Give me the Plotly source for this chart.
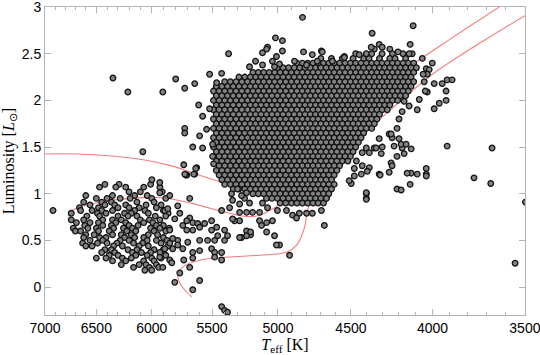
import math
import plotly.graph_objects as go

# ---------------- data ----------------
# Evolutionary tracks (Teff [K], L)
track_c_T = [7000, 6675, 6356, 6061, 5830, 5656, 5385, 5285, 5172]
track_c_L = [1.426, 1.426, 1.404, 1.362, 1.298, 1.223, 1.106, 1.064, 1.02]

track_b_T = [6704, 6752, 6762, 6675, 6485, 6211, 5914, 5656, 5385, 5232, 5135, 5062, 5004,
             4953, 4848, 4576, 4320, 4119, 3905, 3633, 3582]
track_b_L = [0.702, 0.734, 0.787, 0.851, 0.904, 0.947, 0.957, 0.894, 0.798, 0.755, 0.766, 0.819, 0.872,
             1.085, 1.457, 1.83, 2.128, 2.383, 2.649, 3.0, 3.07]

track_a_T = [5664, 5721, 5762, 5779, 5738, 5599, 5385, 5135, 4939, 4868, 4812, 4792, 4758,
             4710, 4511, 4239, 4002, 3724, 3495]
track_a_L = [-0.106, -0.032, 0.043, 0.128, 0.213, 0.287, 0.319, 0.34, 0.372, 0.447, 0.638, 0.819, 0.947,
             1.191, 1.511, 1.915, 2.277, 2.628, 2.915]

# Dense red-giant clump: rows of (L, list of Teff)
giant_rows = [
    (2.55, [4350, 4254]),
    (2.50, [4469, 4367, 4302, 4238, 4174]),
    (2.45, [4700, 4628, 4556, 4486, 4418, 4384, 4318, 4254, 4222, 4158]),
    (2.40, [4865, 4827, 4790, 4754, 4718, 4682, 4646, 4610, 4574, 4538, 4503, 4469, 4435, 4401, 4367, 4334, 4302, 4270, 4238, 4206, 4174, 4142, 4110]),
    (2.35, [5004, 4964, 4924, 4884, 4846, 4808, 4772, 4736, 4700, 4664, 4628, 4592, 4556, 4520, 4486, 4452, 4418, 4384, 4350, 4318, 4286, 4254, 4222, 4190, 4158, 4126, 4094]),
    (2.30, [5184, 5144, 5104, 5064, 5024, 4984, 4944, 4904, 4865, 4827, 4790, 4754, 4718, 4682, 4646, 4610, 4574, 4538, 4503, 4469, 4435, 4401, 4367, 4334, 4302, 4270, 4238, 4206, 4174, 4142, 4110]),
    (2.25, [5290, 5246, 5204, 5164, 5124, 5084, 5044, 5004, 4964, 4924, 4884, 4846, 4808, 4772, 4736, 4700, 4664, 4628, 4592, 4556, 4520, 4486, 4452, 4418, 4384, 4350, 4318, 4286, 4254, 4222, 4190, 4158, 4126]),
    (2.20, [5400, 5356, 5312, 5268, 5225, 5184, 5144, 5104, 5064, 5024, 4984, 4944, 4904, 4865, 4827, 4790, 4754, 4718, 4682, 4646, 4610, 4574, 4538, 4503, 4469, 4435, 4401, 4367, 4334, 4302, 4270, 4238, 4206, 4174, 4142, 4110]),
    (2.15, [5466, 5422, 5378, 5334, 5290, 5246, 5204, 5164, 5124, 5084, 5044, 5004, 4964, 4924, 4884, 4846, 4808, 4772, 4736, 4700, 4664, 4628, 4592, 4556, 4520, 4486, 4452, 4418, 4384, 4350, 4318, 4286, 4254, 4222, 4190, 4158, 4126]),
    (2.10, [5488, 5444, 5400, 5356, 5312, 5268, 5225, 5184, 5144, 5104, 5064, 5024, 4984, 4944, 4904, 4865, 4827, 4790, 4754, 4718, 4682, 4646, 4610, 4574, 4538, 4503, 4469, 4435, 4401, 4367, 4334, 4302, 4270, 4238, 4206, 4174, 4142]),
    (2.05, [5466, 5422, 5378, 5334, 5290, 5246, 5204, 5164, 5124, 5084, 5044, 5004, 4964, 4924, 4884, 4846, 4808, 4772, 4736, 4700, 4664, 4628, 4592, 4556, 4520, 4486, 4452, 4418, 4384, 4350, 4318, 4286, 4254, 4222, 4190, 4158]),
    (2.00, [5488, 5444, 5400, 5356, 5312, 5268, 5225, 5184, 5144, 5104, 5064, 5024, 4984, 4944, 4904, 4865, 4827, 4790, 4754, 4718, 4682, 4646, 4610, 4574, 4538, 4503, 4469, 4435, 4401, 4367, 4334, 4302, 4270, 4238, 4206]),
    (1.95, [5466, 5422, 5378, 5334, 5290, 5246, 5204, 5164, 5124, 5084, 5044, 5004, 4964, 4924, 4884, 4846, 4808, 4772, 4736, 4700, 4664, 4628, 4592, 4556, 4520, 4486, 4452, 4418, 4384, 4350, 4318, 4286, 4254]),
    (1.90, [5488, 5444, 5400, 5356, 5312, 5268, 5225, 5184, 5144, 5104, 5064, 5024, 4984, 4944, 4904, 4865, 4827, 4790, 4754, 4718, 4682, 4646, 4610, 4574, 4538, 4503, 4469, 4435, 4401, 4367, 4334, 4302, 4270]),
    (1.85, [5466, 5422, 5378, 5334, 5290, 5246, 5204, 5164, 5124, 5084, 5044, 5004, 4964, 4924, 4884, 4846, 4808, 4772, 4736, 4700, 4664, 4628, 4592, 4556, 4520, 4486, 4452, 4418, 4384, 4350, 4318]),
    (1.80, [5488, 5444, 5400, 5356, 5312, 5268, 5225, 5184, 5144, 5104, 5064, 5024, 4984, 4944, 4904, 4865, 4827, 4790, 4754, 4718, 4682, 4646, 4610, 4574, 4538, 4503, 4469, 4435, 4401, 4367, 4334]),
    (1.75, [5466, 5422, 5378, 5334, 5290, 5246, 5204, 5164, 5124, 5084, 5044, 5004, 4964, 4924, 4884, 4846, 4808, 4772, 4736, 4700, 4664, 4628, 4592, 4556, 4520, 4486, 4452, 4418, 4384, 4350]),
    (1.70, [5488, 5444, 5400, 5356, 5312, 5268, 5225, 5184, 5144, 5104, 5064, 5024, 4984, 4944, 4904, 4865, 4827, 4790, 4754, 4718, 4682, 4646, 4610, 4574, 4538, 4503, 4469, 4435, 4401, 4367]),
    (1.65, [5466, 5422, 5378, 5334, 5290, 5246, 5204, 5164, 5124, 5084, 5044, 5004, 4964, 4924, 4884, 4846, 4808, 4772, 4736, 4700, 4664, 4628, 4592, 4556, 4520, 4486, 4452, 4418]),
    (1.60, [5488, 5444, 5400, 5356, 5312, 5268, 5225, 5184, 5144, 5104, 5064, 5024, 4984, 4944, 4904, 4865, 4827, 4790, 4754, 4718, 4682, 4646, 4610, 4574, 4538, 4503, 4469, 4435]),
    (1.55, [5466, 5422, 5378, 5334, 5290, 5246, 5204, 5164, 5124, 5084, 5044, 5004, 4964, 4924, 4884, 4846, 4808, 4772, 4736, 4700, 4664, 4628, 4592, 4556, 4520, 4486, 4452]),
    (1.50, [5488, 5444, 5400, 5356, 5312, 5268, 5225, 5184, 5144, 5104, 5064, 5024, 4984, 4944, 4904, 4865, 4827, 4790, 4754, 4718, 4682, 4646, 4610, 4574, 4538, 4503, 4469]),
    (1.45, [5466, 5422, 5378, 5334, 5290, 5246, 5204, 5164, 5124, 5084, 5044, 5004, 4964, 4924, 4884, 4846, 4808, 4772, 4736, 4700, 4664, 4628, 4592, 4556, 4520, 4486]),
    (1.40, [5488, 5444, 5400, 5356, 5312, 5268, 5225, 5184, 5144, 5104, 5064, 5024, 4984, 4944, 4904, 4865, 4827, 4790, 4754, 4718, 4682, 4646, 4610, 4574, 4538, 4503]),
    (1.35, [5466, 5422, 5378, 5334, 5290, 5246, 5204, 5164, 5124, 5084, 5044, 5004, 4964, 4924, 4884, 4846, 4808, 4772, 4736, 4700, 4664, 4628, 4592, 4556, 4520]),
    (1.30, [5444, 5400, 5356, 5312, 5268, 5225, 5184, 5144, 5104, 5064, 5024, 4984, 4944, 4904, 4865, 4827, 4790, 4754, 4718, 4682, 4646, 4610, 4574]),
    (1.25, [5466, 5422, 5378, 5334, 5290, 5246, 5204, 5164, 5124, 5084, 5044, 5004, 4964, 4924, 4884, 4846, 4808, 4772, 4736, 4700, 4664, 4628, 4592]),
    (1.20, [5444, 5400, 5356, 5312, 5268, 5225, 5184, 5144, 5104, 5064, 5024, 4984, 4944, 4904, 4865, 4827, 4790, 4754, 4718, 4682, 4646, 4610]),
    (1.15, [5422, 5378, 5334, 5290, 5246, 5204, 5164, 5124, 5084, 5044, 5004, 4964, 4924, 4884, 4846, 4808, 4772, 4736, 4700, 4664, 4628]),
    (1.10, [5400, 5356, 5312, 5268, 5225, 5184, 5144, 5104, 5064, 5024, 4984, 4944, 4904, 4865, 4827, 4790, 4754, 4718, 4682, 4646, 4610]),
    (1.05, [5334, 5290, 5246, 5204, 5164, 5124, 5084, 5044, 5004, 4964, 4924, 4884, 4846, 4808, 4772, 4736, 4700, 4664, 4628]),
    (1.00, [5184, 5144, 5104, 5064, 5024, 4984, 4944, 4904, 4865, 4827, 4790, 4754, 4718, 4682, 4646]),
    (0.95, [5084, 5044, 5004, 4964, 4924, 4884, 4846, 4808, 4772, 4736, 4700, 4664]),
    (0.90, [4984, 4944, 4904, 4865, 4827, 4790, 4754, 4718, 4682]),
]

# Main-sequence group: rows of (L, list of Teff)
dwarf_rows = [
    (1.10, [6420, 6290, 6010]),
    (1.07, [6470, 6320, 6230, 6070, 5930]),
    (1.02, [6200, 6100, 5910]),
    (0.98, [6600, 6350, 6150, 6040]),
    (0.95, [6500, 6400, 6280, 6190, 6000, 5880]),
    (0.91, [6620, 6450, 6360, 6130, 5980]),
    (0.88, [6560, 6420, 6330, 6230, 6050, 5920]),
    (0.85, [6660, 6480, 6300, 6200, 6110, 5960]),
    (0.82, [6920, 6650, 6540, 6450, 6350, 6150, 6060, 5900]),
    (0.79, [6740, 6490, 6410, 6240, 6180, 6030, 5860]),
    (0.76, [6590, 6470, 6300, 6210, 6130, 5970, 5880]),
    (0.72, [6740, 6620, 6440, 6350, 6270, 6100, 6020, 5930]),
    (0.69, [6690, 6560, 6480, 6320, 6230, 6070, 5990]),
    (0.66, [6610, 6440, 6360, 6200, 6120, 5960, 5900]),
    (0.63, [6720, 6580, 6500, 6340, 6250, 6170, 6010, 5930, 5850]),
    (0.60, [6700, 6650, 6480, 6380, 6220, 6140, 5980, 5880]),
    (0.56, [6600, 6520, 6350, 6270, 6180, 6030, 5950]),
    (0.53, [6620, 6470, 6410, 6240, 6150, 6070, 5900]),
    (0.50, [6560, 6440, 6280, 6200, 6040, 5960, 5870]),
    (0.47, [6630, 6490, 6400, 6310, 6160, 6080, 5920]),
    (0.44, [6600, 6540, 6340, 6260, 6110, 6030, 5860]),
    (0.40, [6420, 6360, 6210, 6130, 5980, 5900]),
    (0.37, [6450, 6330, 6170, 6090, 6010, 5930]),
    (0.34, [6380, 6300, 6140, 6040, 5880]),
    (0.31, [6500, 6410, 6260, 6180, 6000, 5920]),
    (0.28, [6350, 6230, 6070, 5980]),
    (0.24, [6270, 6110, 6050, 5960]),
    (0.21, [6160, 6020, 5940]),
    (0.18, [6060, 6000]),
]

# Scattered stars (Teff, L)
scattered = [
    # subgiant region
    (5729, 1.31), (5623, 1.28), (5639, 1.21), (5704, 1.20), (5931, 1.12), (5931, 1.01), (5846, 0.98),
    (5680, 0.95), (5424, 0.82), (5888, 0.82), (5863, 0.84), (5779, 0.87), (5762, 0.79), (5804, 0.73),
    (5680, 0.74), (5704, 0.71), (5655, 0.69), (5615, 0.68), (5559, 0.68), (5503, 0.71), (5737, 0.66),
    (5846, 0.61), (5704, 0.61), (5655, 0.61), (5599, 0.64), (5503, 0.61), (5463, 0.64), (5401, 0.61),
    (5378, 0.55), (5455, 0.55), (5401, 0.50), (5479, 0.50), (5535, 0.50), (5599, 0.50), (5696, 0.48),
    (5779, 0.50), (5821, 0.52), (5846, 0.47), (5779, 0.45), (5737, 0.41), (5821, 0.41), (5888, 0.41),
    (5655, 0.37), (5599, 0.39), (5503, 0.41), (5479, 0.37), (5424, 0.37), (5931, 0.32), (5846, 0.29),
    (5729, 0.29), (5655, 0.31), (5479, 0.32), (5424, 0.29), (5905, 0.21), (5829, 0.26), (5680, 0.21),
    (5762, 0.15), (5804, 0.05), (5599, 0.07), (5655, -0.03), (5424, -0.21), (5401, -0.25), (5378, -0.27),
    (5285, 0.71), (5324, 0.71), (5232, 0.60), (5202, 0.56), (5270, 0.53), (5135, 0.71), (5083, 0.69),
    (5040, 0.71), (5120, 0.66), (5083, 0.59), (5025, 0.55), (4989, 0.45), (5285, 0.80), (5187, 0.80),
    (5135, 0.80), (5232, 0.80), (5362, 0.85), (5339, 0.93), (5285, 0.89), (5247, 0.95), (5210, 0.90),
    (5113, 0.90), (5076, 0.85), (5347, 1.00), (5301, 1.05), (5270, 0.98), (5232, 1.01), (5339, 0.73),
    (4676, 0.66), (4696, 0.82), (4662, 0.95), (4758, 0.79), (4798, 0.79), (4848, 0.79), (4896, 0.77),
    (4868, 0.74), (4939, 0.82), (5004, 0.82), (4917, 0.34), (5011, 0.45), (5285, 0.53), (5232, 0.55),
    (5202, 0.59),
    # cool side of the clump
    (4498, 1.11), (4511, 1.14), (4478, 1.19), (4433, 1.21), (4401, 0.95), (4401, 1.00),
    (4364, 2.72), (4113, 2.80), (4370, 2.57), (4320, 2.60), (4301, 2.57), (4131, 2.60), (4119, 2.50),
    (4137, 2.50), (4204, 2.52), (4059, 2.45), (4001, 2.40), (4036, 2.34), (4019, 2.33), (4048, 2.20),
    (3990, 2.18), (3944, 2.18), (3916, 2.22), (3888, 2.22), (3922, 2.10), (4030, 2.09), (4042, 2.10),
    (4077, 2.01), (4089, 1.90), (4137, 1.94), (4179, 1.88), (4198, 1.80), (4210, 1.70), (4167, 1.99),
    (3990, 1.91), (3961, 1.97), (3922, 2.00), (3916, 1.51), (4258, 1.64), (4240, 1.60), (4198, 1.59),
    (4228, 1.51), (4179, 1.49), (4320, 1.59), (4351, 1.49), (4401, 1.49), (4543, 2.47), (4446, 2.49),
    (4696, 2.53), (4301, 1.50), (4339, 1.49), (4382, 1.44), (4427, 1.44), (4307, 1.43), (4246, 1.33),
    (4240, 1.30), (4185, 1.53), (4155, 1.53), (4125, 1.48), (4167, 1.43), (4210, 1.40), (4246, 1.64),
    (4036, 1.27), (4036, 1.21), (4089, 1.21), (4125, 1.22), (4149, 1.22), (4258, 1.23), (4320, 1.21),
    (4382, 1.28), (4395, 1.24), (4427, 1.30), (4478, 1.27), (4465, 1.35), (4401, 1.01), (4401, 0.94),
    (4210, 1.05), (4185, 1.04), (4131, 1.10), (4036, 1.19), (4314, 1.20), (4030, 2.28), (4054, 2.28),
    (3670, 1.49), (3767, 1.17), (3677, 1.11), (3497, 0.91), (3550, 0.255),
    # hot/upper side of the clump
    (4826, 2.89), (5370, 2.50), (5018, 2.67), (4968, 2.64), (5076, 2.57), (5083, 2.55), (5113, 2.51),
    (4968, 2.53), (5011, 2.47), (5040, 2.42), (4989, 2.39), (5025, 2.36), (5210, 2.36), (5165, 2.42),
    (5113, 2.38), (4819, 2.52), (4758, 2.49), (4690, 2.52), (4724, 2.42), (4882, 2.42), (4798, 2.38),
    (4622, 2.42), (4543, 2.46), (4401, 2.50),
    (5796, 2.23), (5721, 2.13), (5639, 2.18), (5519, 2.28), (5424, 2.29), (5463, 2.19), (5607, 1.95),
    (5575, 1.83), (5519, 1.91), (5721, 1.70), (5721, 1.65), (5543, 1.69), (5599, 1.62), (5655, 1.50),
    (5575, 1.49), (5495, 1.53), (5495, 1.40), (5487, 1.32), (5631, 1.27), (5712, 1.20), (5647, 1.21),
    (6346, 2.24), (6211, 2.09), (5905, 2.09), (6078, 1.45), (5999, 1.15), (5721, 1.21),
]

# Axis ticks
x_ticks = [7000, 6500, 6000, 5500, 5000, 4500, 4000, 3500]
x_minor = [6900, 6800, 6700, 6600, 6400, 6300, 6200, 6100, 5900, 5800, 5700, 5600,
           5400, 5300, 5200, 5100, 4900, 4800, 4700, 4600, 4400, 4300, 4200, 4100,
           3900, 3800, 3700, 3600]
y_ticks = [0, 0.5, 1, 1.5, 2, 2.5, 3]
y_ticktext = ["0", "0.5", "1", "1.5", "2", "2.5", "3"]

# ---------------- build ----------------
star_T, star_L = [], []
for L, Ts in dwarf_rows + giant_rows:
    for T in Ts:
        star_T.append(T)
        star_L.append(L)
for T, L in scattered:
    star_T.append(T)
    star_L.append(L)

red = "rgb(242,125,125)"
fig = go.Figure()
for tx, ty in [(track_c_T, track_c_L), (track_b_T, track_b_L), (track_a_T, track_a_L)]:
    fig.add_trace(go.Scatter(x=tx, y=ty, mode="lines", line=dict(color=red, width=1.1, shape="spline"),
                             hoverinfo="skip", showlegend=False))

fig.add_trace(go.Scatter(
    x=star_T, y=star_L, mode="markers", showlegend=False,
    marker=dict(size=5.6, color="#828282", line=dict(color="#141414", width=1.3)),
))

axis_common = dict(
    showgrid=False, zeroline=False, showline=True, linecolor="#b3b3b3", linewidth=1,
    mirror="allticks", ticks="inside", tickcolor="#b3b3b3", tickwidth=1,
    ticklabeloverflow="allow", automargin=False,
    tickfont=dict(family="Liberation Sans, Arial, sans-serif", size=14, color="black"),
)

fig.update_layout(
    width=540, height=355,
    margin=dict(l=45, r=15, t=7, b=40),
    paper_bgcolor="white", plot_bgcolor="white",
    xaxis=dict(
        type="log", range=[math.log10(7000.5), math.log10(3499.5)],
        tickmode="array", tickvals=x_ticks, ticktext=[str(v) for v in x_ticks], ticklen=6,
        minor=dict(tickmode="array", tickvals=x_minor, ticks="inside", ticklen=3,
                   tickcolor="#b3b3b3", tickwidth=1, showgrid=False),
        title=dict(text="<i>T</i><sub>eff</sub> [K]", standoff=4,
                   font=dict(family="Liberation Serif, Times New Roman, serif", size=16, color="black")),
        **axis_common,
    ),
    yaxis=dict(
        range=[-0.3, 3.001], tickmode="array", tickvals=y_ticks, ticktext=y_ticktext, ticklen=6,
        title=dict(text="Luminosity [<i>L</i><sub>⊙</sub>]", standoff=6,
                   font=dict(family="Liberation Serif, Times New Roman, serif", size=16, color="black")),
        **axis_common,
    ),
)

fig.write_html("out.html")
